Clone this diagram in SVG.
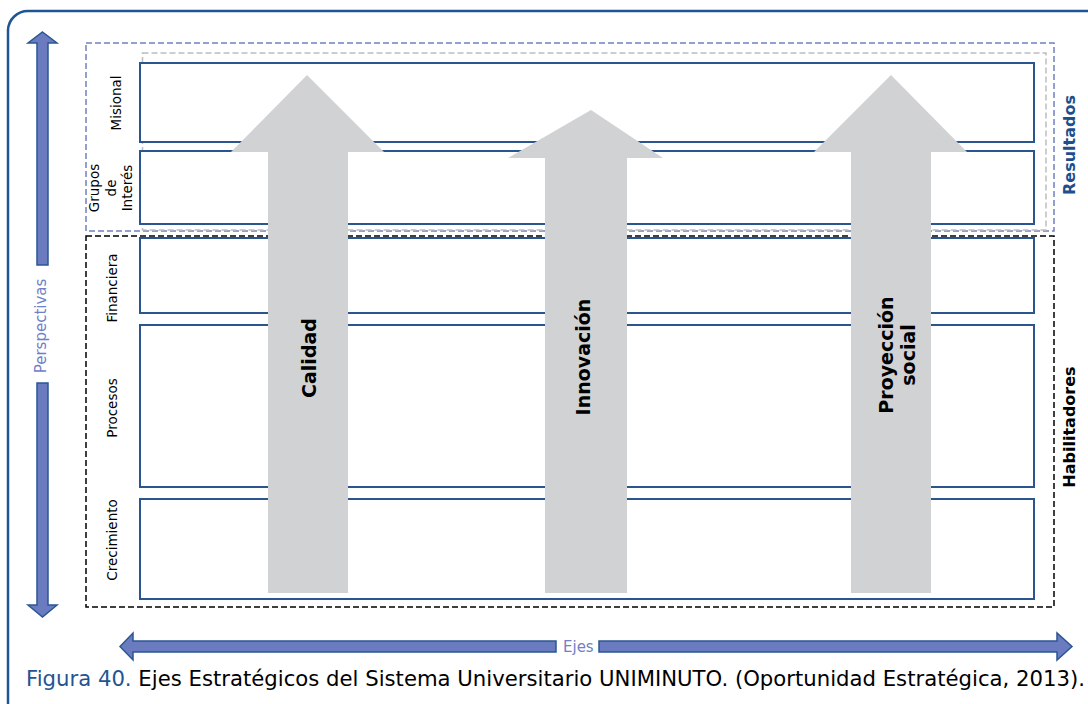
<svg xmlns="http://www.w3.org/2000/svg" width="1088" height="704" viewBox="0 0 1088 704">
<style>
.box{fill:#fff;stroke:#2b5590;stroke-width:2}
.lbl{font-family:"DejaVu Sans",sans-serif;font-size:13.5px;fill:#000;text-anchor:middle}
.side{font-family:"DejaVu Sans",sans-serif;font-size:16px;font-weight:bold;text-anchor:middle}
.ax{font-family:"DejaVu Sans",sans-serif;font-size:19px;font-weight:bold;fill:#000;text-anchor:middle}
.big{fill:#6a7cbf;stroke:#2b5694;stroke-width:1.5}
.gray{fill:#d1d2d4}
</style>
<rect width="1088" height="704" fill="#fff"/>
<path d="M8 704 V30 A20 20 0 0 1 28 11 H1090" fill="none" stroke="#1f5592" stroke-width="2.5"/>

<g id="groups">
<rect x="86" y="43" width="968" height="188" fill="none" stroke="#7080c0" stroke-width="1.5" stroke-dasharray="6,3"/>
<rect x="142.5" y="53" width="903.5" height="177" fill="none" stroke="#bdbdbd" stroke-width="1.5" stroke-dasharray="6,3"/>
<rect x="86" y="236" width="968" height="371" fill="none" stroke="#000" stroke-width="1.5" stroke-dasharray="6,3"/>
</g>

<g id="misional"><rect class="box" x="140" y="63" width="894" height="79"/>
<text class="lbl" transform="translate(121,103) rotate(-90)">Misional</text></g>
<g id="grupos"><rect class="box" x="140" y="151" width="894" height="73"/>
<text class="lbl" transform="translate(99,188) rotate(-90)">Grupos</text>
<text class="lbl" transform="translate(115.5,188) rotate(-90)">de</text>
<text class="lbl" transform="translate(132,188) rotate(-90)">Interés</text></g>
<g id="financiera"><rect class="box" x="140" y="238" width="894" height="75"/>
<text class="lbl" transform="translate(117,288) rotate(-90)">Financiera</text></g>
<g id="procesos"><rect class="box" x="140" y="325" width="894" height="162"/>
<text class="lbl" transform="translate(117,408) rotate(-90)">Procesos</text></g>
<g id="crecimiento"><rect class="box" x="140" y="499" width="894" height="100"/>
<text class="lbl" transform="translate(117,540) rotate(-90)">Crecimiento</text></g>

<g id="calidad"><polygon class="gray" points="307,75 384,152 348,152 348,593 268,593 268,152 231,152"/>
<text class="ax" transform="translate(316,358) rotate(-90)">Calidad</text></g>
<g id="innovacion"><polygon class="gray" points="591,110 663,158 627,158 627,593 545,593 545,158 508,158"/>
<text class="ax" transform="translate(590,357) rotate(-90)">Innovación</text></g>
<g id="proyeccion"><polygon class="gray" points="891,75 967,152 931,152 931,593 851,593 851,152 814,152"/>
<text class="ax" transform="translate(893,355) rotate(-90)">Proyección</text>
<text class="ax" transform="translate(915,355) rotate(-90)">social</text></g>

<g id="resultados"><text class="side" fill="#1f4e8c" transform="translate(1075,145) rotate(-90)">Resultados</text></g>
<g id="habilitadores"><text class="side" fill="#000" transform="translate(1075,427) rotate(-90)">Habilitadores</text></g>

<g id="connectors">
<polygon class="big" points="42.5,32 57,43 48,43 48,265 37,265 37,43 28,43"/>
<polygon class="big" points="37,383 48,383 48,605 57,605 42.5,617 28,605 37,605"/>
<polygon class="big" points="120,646.5 133,633 133,641 556,641 556,652 133,652 133,660"/>
<polygon class="big" points="599,641 1057,641 1057,633 1072,646.5 1057,660 1057,652 599,652"/>
</g>
<g id="perspectivas"><text font-family="DejaVu Sans, sans-serif" font-size="15" fill="#7080c8" text-anchor="middle" transform="translate(46,326) rotate(-90)">Perspectivas</text></g>
<g id="ejes"><text font-family="DejaVu Sans, sans-serif" font-size="15" fill="#7080c8" x="563" y="652">Ejes</text></g>

<g id="caption"><text font-family="DejaVu Sans, sans-serif" font-size="20.5" x="26" y="686" textLength="1059" lengthAdjust="spacingAndGlyphs"><tspan fill="#1f5592">Figura 40.</tspan><tspan fill="#000"> Ejes Estratégicos del Sistema Universitario UNIMINUTO. (Oportunidad Estratégica, 2013).</tspan></text></g>
</svg>
